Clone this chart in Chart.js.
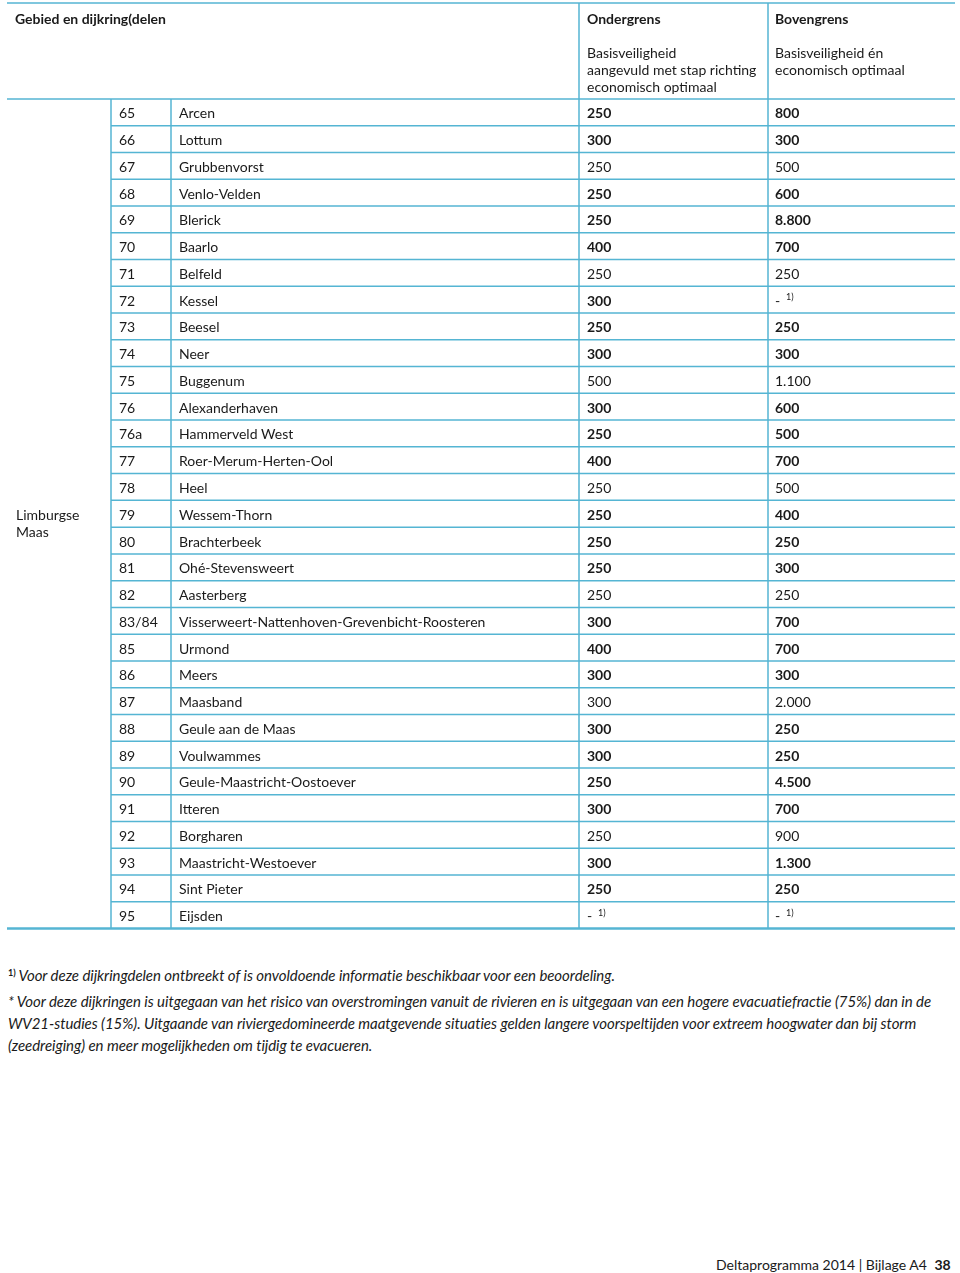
<!DOCTYPE html>
<html>
<head>
<meta charset="utf-8">
<script src="https://cdn.jsdelivr.net/npm/chart.js@4"></script>
<style>
  body { margin: 0; background: #fff; width: 960px; height: 1273px; position: relative; font-family: Lato, sans-serif; color: #1a1a1a; }
  #wrap { position: absolute; left: 0; top: 0; width: 960px; height: 940px; }
  .note { position: absolute; left: 8px; width: 950px; font-style: italic; font-size: 15px; letter-spacing: -0.05px; line-height: 22px; white-space: nowrap; }
  .note sup { font-size: 9px; font-style: normal; font-weight: bold; vertical-align: 5px; line-height: 0; }
  #footer { position: absolute; left: 716px; top: 1256px; font-size: 14px; white-space: nowrap; }
  #footer b { margin-left: 4px; }
</style>
</head>
<body>
<div id="wrap"><canvas id="myChart" width="960" height="940"></canvas></div>
<div class="note" style="top:964px"><sup>1)</sup> Voor deze dijkringdelen ontbreekt of is onvoldoende informatie beschikbaar voor een beoordeling.</div>
<div class="note" style="top:990px">* Voor deze dijkringen is uitgegaan van het risico van overstromingen vanuit de rivieren en is uitgegaan van een hogere evacuatiefractie (75%) dan in de<br>WV21-studies (15%). Uitgaande van riviergedomineerde maatgevende situaties gelden langere voorspeltijden voor extreem hoogwater dan bij storm<br>(zeedreiging) en meer mogelijkheden om tijdig te evacueren.</div>
<div id="footer">Deltaprogramma 2014 | Bijlage A4 <b>38</b></div>
<script>
const ctx = document.getElementById("myChart").getContext("2d");

const dijkringen = ['65','66','67','68','69','70','71','72','73','74','75','76','76a','77','78','79',
  '80','81','82','83/84','85','86','87','88','89','90','91','92','93','94','95'];

const namen = ['Arcen','Lottum','Grubbenvorst','Venlo-Velden','Blerick','Baarlo','Belfeld','Kessel',
  'Beesel','Neer','Buggenum','Alexanderhaven','Hammerveld West','Roer-Merum-Herten-Ool','Heel',
  'Wessem-Thorn','Brachterbeek','Ohé-Stevensweert','Aasterberg',
  'Visserweert-Nattenhoven-Grevenbicht-Roosteren','Urmond','Meers','Maasband','Geule aan de Maas',
  'Voulwammes','Geule-Maastricht-Oostoever','Itteren','Borgharen','Maastricht-Westoever',
  'Sint Pieter','Eijsden'];

// null = "- 1)" (geen informatie)
const ondergrens = [250,300,250,250,250,400,250,300,250,300,500,300,250,400,250,250,250,250,250,
  300,400,300,300,300,300,250,300,250,300,250,null];

const bovengrens = [800,300,500,600,8800,700,250,null,250,300,1100,600,500,700,500,400,250,300,250,
  700,700,300,2000,250,250,4500,700,900,1300,250,null];

// vetgedrukte rijen
const vet = [1,1,0,1,1,1,0,1,1,1,0,1,1,1,0,1,1,1,0,1,1,1,0,1,1,1,1,0,1,1,0];

const gebied = ['Limburgse', 'Maas'];

const LINE = '#55b5d3';
const INK = '#1a1a1a';
const FONT = 'Lato, sans-serif';
const SIZE = '14px ';

function fmt(v) {
  return String(v).replace(/\B(?=(\d{3})+(?!\d))/g, '.');
}

const tablePlugin = {
  id: 'table',
  afterDraw(chart) {
    const c = chart.ctx;
    const ys = chart.scales.y;
    const { left, right, top, bottom } = chart.chartArea;
    const rh = (bottom - top) / dijkringen.length;
    const colNr = left, colNaam = 171, colOnder = 579, colBoven = 768, tableLeft = 7;

    c.save();
    c.strokeStyle = LINE;
    // horizontale lijnen
    c.lineWidth = 1.5;
    c.beginPath(); c.moveTo(tableLeft, 3); c.lineTo(right, 3); c.stroke();
    c.beginPath(); c.moveTo(tableLeft, top); c.lineTo(right, top); c.stroke();
    for (let i = 0; i < dijkringen.length - 1; i++) {
      const y = ys.getPixelForValue(i) + rh / 2;
      c.beginPath(); c.moveTo(colNr, y); c.lineTo(right, y); c.stroke();
    }
    c.lineWidth = 2.5;
    c.beginPath(); c.moveTo(tableLeft, bottom); c.lineTo(right, bottom); c.stroke();
    // verticale lijnen
    c.lineWidth = 1.5;
    [colNr, colNaam].forEach(x => { c.beginPath(); c.moveTo(x, top); c.lineTo(x, bottom); c.stroke(); });
    [colOnder, colBoven].forEach(x => { c.beginPath(); c.moveTo(x, 3); c.lineTo(x, bottom); c.stroke(); });

    // kop
    c.fillStyle = INK;
    c.textBaseline = 'middle';
    c.textAlign = 'left';
    c.font = 'bold ' + SIZE + FONT;
    c.fillText('Gebied en dijkring(delen', 15, 19);
    c.fillText('Ondergrens', colOnder + 8, 19);
    c.fillText('Bovengrens', colBoven + 7, 19);
    c.font = SIZE + FONT;
    ['Basisveiligheid', 'aangevuld met stap richting', 'economisch optimaal']
      .forEach((t, k) => c.fillText(t, colOnder + 8, 53 + k * 17));
    ['Basisveiligheid én', 'economisch optimaal']
      .forEach((t, k) => c.fillText(t, colBoven + 7, 53 + k * 17));

    // gebied
    const yMid = ys.getPixelForValue(dijkringen.indexOf('79')) + 1.5;
    gebied.forEach((t, k) => c.fillText(t, 16, yMid + k * 17));

    // rijen
    const cel = (v, x, y, bold) => {
      if (v === null) {
        c.font = SIZE + FONT;
        c.fillText('-', x, y);
        c.font = '9px ' + FONT;
        c.fillText('1)', x + 11, y - 4);
      } else {
        c.font = (bold ? 'bold ' : '') + SIZE + FONT;
        c.fillText(fmt(v), x, y);
      }
    };
    const onder = chart.data.datasets[0].data;
    const boven = chart.data.datasets[1].data;
    dijkringen.forEach((nr, i) => {
      const y = ys.getPixelForValue(i) + 1.5;
      c.font = SIZE + FONT;
      c.fillText(nr, colNr + 8, y);
      c.fillText(namen[i], colNaam + 8, y);
      cel(onder[i], colOnder + 8, y, vet[i]);
      cel(boven[i], colBoven + 7, y, vet[i]);
    });
    c.restore();
  }
};

const data = {
  labels: dijkringen,
  datasets: [
    { label: 'Ondergrens', data: ondergrens, backgroundColor: 'rgba(0,0,0,0)' },
    { label: 'Bovengrens', data: bovengrens, backgroundColor: 'rgba(0,0,0,0)' },
  ],
};

const config = {
  type: 'bar',
  data: data,
  options: {
    indexAxis: 'y',
    responsive: false,
    animation: false,
    layout: { padding: { left: 111, right: 5, top: 99, bottom: 940 - 928.5 } },
    scales: {
      x: { display: false, min: 0, max: 10000 },
      y: { display: false, offset: true },
    },
    plugins: { legend: { display: false }, tooltip: { enabled: false } },
  },
  plugins: [tablePlugin],
};

const myChart = new Chart(ctx, config);
</script>
</body>
</html>
